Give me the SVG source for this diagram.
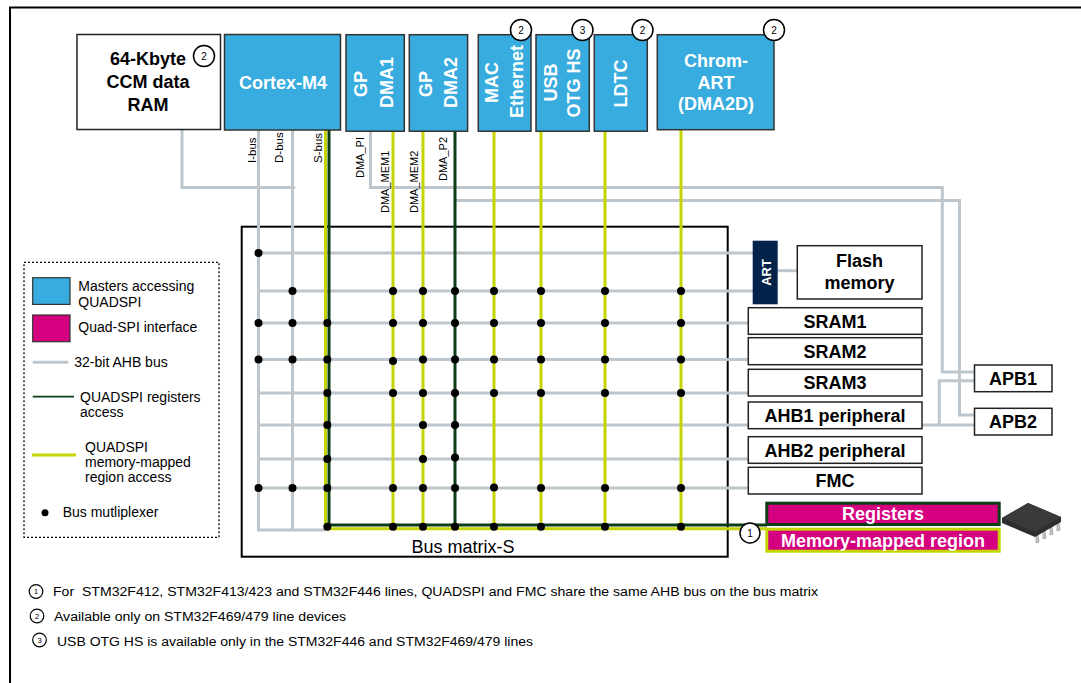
<svg xmlns="http://www.w3.org/2000/svg" width="1081" height="683" viewBox="0 0 1081 683">
<style>
text { font-family: "Liberation Sans", Arial, sans-serif; fill: #000; }
.b { font-weight: bold; font-size: 18px; }
.w { fill: #fff; }
.lg { font-size: 14px; }
.sm { font-size: 11px; }
.fn { font-family: "Liberation Sans Narrow", "Liberation Sans", Arial, sans-serif; font-size: 12.5px; }
.box { fill: #fff; stroke: #222; stroke-width: 1.5; }
.m { fill: #38ACDE; stroke: #333; stroke-width: 1.5; }
.gray { stroke: #BCC6CC; stroke-width: 3; fill: none; }
.yel { stroke: #C5D300; stroke-width: 3; fill: none; }
.grn { stroke: #0B3D16; stroke-width: 3; fill: none; }
.nc { fill: #fff; stroke: #000; stroke-width: 1.5; }
.nt { font-size: 10px; text-anchor: middle; }
.c { text-anchor: middle; }
</style>

<!-- outer frame -->
<path d="M10,690 V7.5 H1090" fill="none" stroke="#000" stroke-width="2"/>

<!-- bus matrix frame -->
<g id="bus-matrix">
<rect x="241.7" y="226.7" width="486" height="330" fill="none" stroke="#000" stroke-width="2"/>
<text x="463" y="553" class="c" font-size="18">Bus matrix-S</text>
</g>

<g id="connectors">
<!-- gray AHB buses -->
<path class="gray" d="M182,130 V187.5 H294" stroke-linecap="round"/>
<path class="gray" d="M370.5,131 V187.5 H942.3 V372 H974.5"/>
<path class="gray" d="M455,200.5 H959.5 V415 H974.5" stroke-linecap="round"/>
<path class="gray" d="M922,425 H974.5 M939.3,425 V380.7 H974.5"/>
<path class="gray" d="M258.5,130 V530 H325 M292.5,130 V530"/>
<path class="gray" d="M257,253 H753 M257,291 H753 M257,323 H749 M257,359.5 H749 M257,393 H749 M257,425 H749 M257,459 H749 M257,488 H749"/>
<path class="gray" d="M777.7,270.7 H797.3"/>
<!-- yellow memory-mapped -->
<path class="yel" d="M325.5,130 V528.7 H767"/>
<path class="yel" d="M393,131 V528.7 M423,131 V528.7 M494,131 V528.7 M541,131 V528.7 M605,131 V528.7 M681,130 V528.7"/>
<!-- dark green register access -->
<path class="grn" d="M329,130 V525 H767"/>
<path class="grn" d="M455,131 V525"/>
<!-- multiplexer dots -->
<g fill="#000">
<circle cx="258.5" cy="253" r="4"/>
<circle cx="292.5" cy="291" r="4"/><circle cx="393" cy="291" r="4"/><circle cx="423" cy="291" r="4"/><circle cx="455" cy="291" r="4"/><circle cx="494" cy="291" r="4"/><circle cx="541" cy="291" r="4"/><circle cx="605" cy="291" r="4"/><circle cx="681" cy="291" r="4"/>
<circle cx="258.5" cy="323" r="4"/><circle cx="292.5" cy="323" r="4"/><circle cx="327.3" cy="323" r="4"/><circle cx="393" cy="323" r="4"/><circle cx="423" cy="323" r="4"/><circle cx="455" cy="323" r="4"/><circle cx="494" cy="323" r="4"/><circle cx="541" cy="323" r="4"/><circle cx="605" cy="323" r="4"/><circle cx="681" cy="323" r="4"/>
<circle cx="258.5" cy="359.5" r="4"/><circle cx="292.5" cy="359.5" r="4"/><circle cx="327.3" cy="359.5" r="4"/><circle cx="393" cy="361" r="4"/><circle cx="423" cy="359.5" r="4"/><circle cx="455" cy="359.5" r="4"/><circle cx="494" cy="359.5" r="4"/><circle cx="541" cy="359.5" r="4"/><circle cx="605" cy="359.5" r="4"/><circle cx="681" cy="359.5" r="4"/>
<circle cx="327.3" cy="393" r="4"/><circle cx="393" cy="393" r="4"/><circle cx="423" cy="393" r="4"/><circle cx="455" cy="393" r="4"/><circle cx="494" cy="393" r="4"/><circle cx="541" cy="393" r="4"/><circle cx="605" cy="393" r="4"/><circle cx="681" cy="393" r="4"/>
<circle cx="327.3" cy="425" r="4"/><circle cx="423" cy="425" r="4"/><circle cx="455" cy="425" r="4"/>
<circle cx="327.3" cy="459" r="4"/><circle cx="423" cy="459" r="4"/><circle cx="455" cy="457.5" r="4"/>
<circle cx="258.5" cy="488" r="4"/><circle cx="292.5" cy="488" r="4"/><circle cx="327.3" cy="488" r="4"/><circle cx="393" cy="488" r="4"/><circle cx="423" cy="488" r="4"/><circle cx="455" cy="488" r="4"/><circle cx="494" cy="487.5" r="4"/><circle cx="541" cy="488" r="4"/><circle cx="605" cy="488" r="4"/><circle cx="681" cy="488" r="4"/>
<circle cx="327.3" cy="526.7" r="4"/><circle cx="393" cy="526.7" r="4"/><circle cx="423" cy="526.7" r="4"/><circle cx="455" cy="526.7" r="4"/><circle cx="494" cy="526.7" r="4"/><circle cx="541" cy="526.7" r="4"/><circle cx="605" cy="526.7" r="4"/><circle cx="681" cy="526.7" r="4"/>
</g>
<!-- bus labels -->
<g class="sm">
<text transform="translate(256,163) rotate(-90)" font-size="11.5">I-bus</text>
<text transform="translate(283,163) rotate(-90)" font-size="11.5">D-bus</text>
<text transform="translate(322,163) rotate(-90)" font-size="11.5">S-bus</text>
<text transform="translate(364,178) rotate(-90)">DMA_PI</text>
<text transform="translate(389,213) rotate(-90)">DMA_MEM1</text>
<text transform="translate(418,213) rotate(-90)">DMA_MEM2</text>
<text transform="translate(447,181) rotate(-90)">DMA_P2</text>
</g>
<!-- note 1 on QUADSPI bus -->
<circle class="nc" cx="750" cy="533" r="10"/>
<text x="750" y="536.5" class="nt">1</text>
</g>

<!-- master nodes -->
<g id="ccm-ram">
<rect class="box" x="77" y="34.5" width="143.5" height="95"/>
<text x="148" y="65" class="b c">64-Kbyte</text>
<text x="148" y="88" class="b c">CCM data</text>
<text x="148" y="111" class="b c">RAM</text>
<circle class="nc" cx="204" cy="56" r="10.5"/><text x="204" y="59.5" class="nt">2</text>
</g>
<g id="cortex-m4">
<rect class="m" x="224.5" y="34.5" width="116" height="95.5"/>
<text x="283" y="88.5" class="b c w">Cortex-M4</text>
</g>
<g id="gp-dma1">
<rect class="m" x="346" y="34.7" width="58.3" height="96.5"/>
<text transform="translate(367,84) rotate(-90)" class="b c w">GP</text>
<text transform="translate(393,82.5) rotate(-90)" class="b c w">DMA1</text>
</g>
<g id="gp-dma2">
<rect class="m" x="409.3" y="34.7" width="58.3" height="96.5"/>
<text transform="translate(432,84) rotate(-90)" class="b c w">GP</text>
<text transform="translate(457,82.5) rotate(-90)" class="b c w">DMA2</text>
</g>
<g id="mac-ethernet">
<rect class="m" x="478.3" y="34.7" width="52.7" height="96.5"/>
<text transform="translate(498,82.5) rotate(-90)" class="b c w">MAC</text>
<text transform="translate(523,81.5) rotate(-90)" class="b c w">Ethernet</text>
<circle class="nc" cx="521" cy="30" r="10.5"/><text x="521" y="33.5" class="nt">2</text>
</g>
<g id="usb-otg-hs">
<rect class="m" x="536" y="34.7" width="53.3" height="96.5"/>
<text transform="translate(557,82.5) rotate(-90)" class="b c w">USB</text>
<text transform="translate(580,83) rotate(-90)" class="b c w">OTG HS</text>
<circle class="nc" cx="582.5" cy="30" r="10.5"/><text x="582.5" y="33.5" class="nt">3</text>
</g>
<g id="ldtc">
<rect class="m" x="594.3" y="34.7" width="53" height="96.5"/>
<text transform="translate(627,83.5) rotate(-90)" class="b c w">LDTC</text>
<circle class="nc" cx="642.5" cy="30" r="10.5"/><text x="642.5" y="33.5" class="nt">2</text>
</g>
<g id="chrom-art">
<rect class="m" x="657.3" y="34.7" width="116.7" height="95"/>
<text x="716" y="67" class="b c w">Chrom-</text>
<text x="716" y="88.5" class="b c w">ART</text>
<text x="716" y="110" class="b c w">(DMA2D)</text>
<circle class="nc" cx="774" cy="30" r="10.5"/><text x="774" y="33.5" class="nt">2</text>
</g>

<!-- slave nodes -->
<g id="art">
<rect x="752.7" y="240.7" width="25" height="63.6" fill="#03234B"/>
<text transform="translate(770.7,272.5) rotate(-90)" class="c w" font-weight="bold" font-size="13">ART</text>
</g>
<g id="flash-memory">
<rect class="box" x="797.3" y="245.7" width="124.7" height="53.3"/>
<text x="859.5" y="267" class="b c">Flash</text>
<text x="859.5" y="289" class="b c">memory</text>
</g>
<g id="sram1"><rect class="box" x="748.3" y="307.7" width="173.7" height="26.6"/><text x="835" y="327.5" class="b c">SRAM1</text></g>
<g id="sram2"><rect class="box" x="748.3" y="337.7" width="173.7" height="27"/><text x="835" y="357.8" class="b c">SRAM2</text></g>
<g id="sram3"><rect class="box" x="748.3" y="369.3" width="173.7" height="26.7"/><text x="835" y="389" class="b c">SRAM3</text></g>
<g id="ahb1"><rect class="box" x="748.3" y="402" width="173.7" height="26.7"/><text x="835" y="421.8" class="b c">AHB1 peripheral</text></g>
<g id="ahb2"><rect class="box" x="748.3" y="436.7" width="173.7" height="26.6"/><text x="835" y="456.5" class="b c">AHB2 peripheral</text></g>
<g id="fmc"><rect class="box" x="748.3" y="467.3" width="173.7" height="26.7"/><text x="835" y="487" class="b c">FMC</text></g>
<g id="apb1"><rect class="box" x="974.5" y="365" width="77.5" height="26.7"/><text x="1013" y="384.8" class="b c">APB1</text></g>
<g id="apb2"><rect class="box" x="974.5" y="408.3" width="77.5" height="26.7"/><text x="1013" y="428" class="b c">APB2</text></g>
<g id="registers">
<rect x="766.8" y="503.2" width="232.4" height="21.3" fill="#D5007F" stroke="#0B3D16" stroke-width="3"/>
<text x="883" y="520" class="b c w">Registers</text>
</g>
<g id="memory-mapped-region">
<rect x="766.8" y="529.2" width="232.4" height="22" fill="#D5007F" stroke="#C5D300" stroke-width="3"/>
<text x="883" y="546.5" class="b c w">Memory-mapped region</text>
</g>
<g id="flash-chip">
<g fill="#c8c8c8" stroke="#888" stroke-width="0.6">
<path d="M1036,535 l2,0 l1,7 l-3,1 z"/>
<path d="M1043,531 l2,0 l1,7 l-3,1 z"/>
<path d="M1050,527 l2,0 l1,7 l-3,1 z"/>
<path d="M1057,523 l2,0 l1,7 l-3,1 z"/>
</g>
<polygon points="1002,518 1028,503 1061,517 1061,522 1035,537 1002,523" fill="#2e2e2e"/>
<polygon points="1002,518 1028,503 1061,517 1035,532" fill="#3a3a3a"/>
</g>

<!-- legend -->
<g id="legend">
<rect x="24" y="262.3" width="195" height="275" fill="none" stroke="#000" stroke-width="1.3" stroke-dasharray="2,2"/>
<rect x="32.7" y="277.7" width="37.3" height="26.7" fill="#38ACDE" stroke="#333" stroke-width="1.2"/>
<text x="78.3" y="291" class="lg">Masters accessing</text>
<text x="78.3" y="306.5" class="lg">QUADSPI</text>
<rect x="32.7" y="315" width="37.3" height="26.7" fill="#D5007F" stroke="#333" stroke-width="1.2"/>
<text x="78.3" y="331.7" class="lg">Quad-SPI interface</text>
<line x1="32.7" y1="362.3" x2="68.3" y2="362.3" class="gray"/>
<text x="74.3" y="367" class="lg">32-bit AHB bus</text>
<line x1="32.7" y1="396.7" x2="74" y2="396.7" stroke="#0B3D16" stroke-width="1.8"/>
<text x="80" y="401.7" class="lg">QUADSPI registers</text>
<text x="80" y="416.7" class="lg">access</text>
<line x1="32" y1="455" x2="76" y2="455" class="yel"/>
<text x="85" y="451.7" class="lg">QUADSPI</text>
<text x="85" y="466.7" class="lg">memory-mapped</text>
<text x="85" y="481.7" class="lg">region access</text>
<circle cx="45" cy="512.7" r="3.5" fill="#000"/>
<text x="62.7" y="516.7" class="lg">Bus mutliplexer</text>
</g>

<!-- footnotes -->
<g id="footnotes">
<circle cx="36" cy="591.5" r="6.8" fill="#fff" stroke="#000" stroke-width="1.2"/>
<text x="36" y="594.3" font-size="7.5" class="c">1</text>
<text x="53" y="596" class="fn" xml:space="preserve" textLength="765" lengthAdjust="spacingAndGlyphs">For  STM32F412, STM32F413/423 and STM32F446 lines, QUADSPI and FMC share the same AHB bus on the bus matrix</text>
<circle cx="37" cy="616" r="6.8" fill="#fff" stroke="#000" stroke-width="1.2"/>
<text x="37" y="618.8" font-size="7.5" class="c">2</text>
<text x="54" y="621" class="fn" textLength="292" lengthAdjust="spacingAndGlyphs">Available only on STM32F469/479 line devices</text>
<circle cx="39.5" cy="640" r="6.8" fill="#fff" stroke="#000" stroke-width="1.2"/>
<text x="39.5" y="642.8" font-size="7.5" class="c">3</text>
<text x="57" y="645.5" class="fn" textLength="476" lengthAdjust="spacingAndGlyphs">USB OTG HS is available only in the STM32F446 and STM32F469/479 lines</text>
</g>
</svg>
